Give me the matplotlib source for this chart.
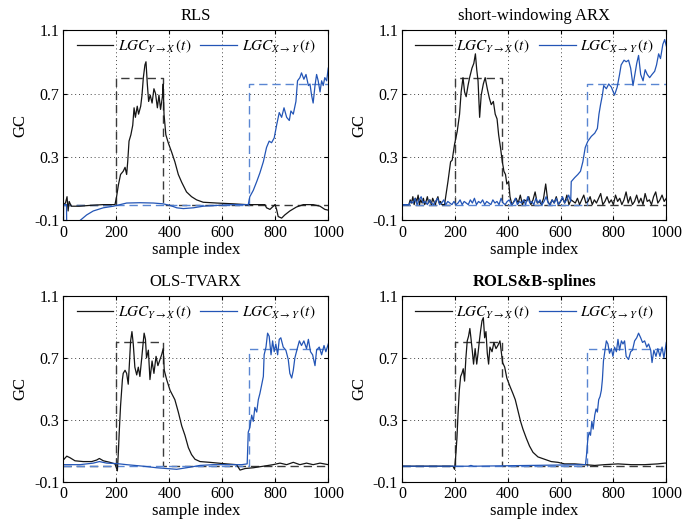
"""
Time-varying Granger causality estimates for four methods (2x2 panels).
Writes out.png.
"""

import matplotlib
matplotlib.use("Agg")
import matplotlib.pyplot as plt
import numpy as np

plt.rcParams["font.family"] = ["Liberation Serif", "DejaVu Serif"]
plt.rcParams["mathtext.fontset"] = "stix"

# ---------------------------------------------------------------------------
# Data
# ---------------------------------------------------------------------------

# ground truth: Y->X active on [200, 378), X->Y active from 700 on
TRUE_YX_T = [0, 200, 378, 1000]
TRUE_YX_V = [0.0, 0.80, 0.0, 0.0]
TRUE_XY_T = [0, 700, 1000]
TRUE_XY_V = [0.0, 0.76, 0.76]

# --- RLS ---
RLS_YX_T = [0, 8, 14, 18, 22, 30, 60, 100, 150, 190, 195, 201, 208, 216, 226,
            233, 239, 243, 248, 255, 262, 267, 272, 279, 284, 292, 297, 302,
            308, 312, 317, 322, 328, 335, 342, 348, 355, 361, 367, 374, 377,
            380, 387, 396, 409, 421, 434, 447, 465, 484, 503, 528, 579, 642,
            692, 742, 761, 767, 780, 799, 805, 811, 824, 836, 855, 880, 906,
            943, 969, 987, 1000]
RLS_YX_V = [0.0, 0.01, 0.05, -0.04, 0.02, -0.01, -0.01, -0.005, 0.0, 0.0, 0.0,
            0.05, 0.125, 0.19, 0.21, 0.235, 0.19, 0.27, 0.40, 0.44, 0.50, 0.61,
            0.55, 0.62, 0.57, 0.62, 0.69, 0.80, 0.88, 0.90, 0.76, 0.65, 0.69,
            0.64, 0.73, 0.70, 0.61, 0.69, 0.60, 0.68, 0.76, 0.57, 0.44, 0.39,
            0.33, 0.27, 0.19, 0.14, 0.08, 0.05, 0.03, 0.015, 0.01, 0.005, 0.0,
            0.0, 0.0, -0.02, -0.03, 0.0, -0.03, -0.075, -0.085, -0.065, -0.04,
            -0.015, 0.0, 0.0, -0.01, -0.03, -0.035]
RLS_XY_T = [0, 1, 12, 13, 40, 63, 88, 113, 151, 189, 239, 289, 340, 377, 403,
            428, 453, 491, 528, 579, 642, 698, 704, 717, 730, 742, 755, 767,
            777, 786, 796, 805, 815, 824, 833, 843, 853, 859, 868, 878, 884,
            893, 899, 908, 916, 925, 931, 937, 943, 950, 956, 962, 969, 975,
            981, 987, 994, 1000]
RLS_XY_V = [-0.2, 0.0, 0.0, -0.2, -0.2, -0.1, -0.065, -0.04, -0.02, -0.01,
            0.01, 0.012, 0.01, 0.005, -0.005, -0.02, -0.025, -0.02, -0.01,
            -0.005, 0.0, 0.0, 0.05, 0.09, 0.145, 0.20, 0.27, 0.36, 0.40, 0.39,
            0.42, 0.50, 0.58, 0.55, 0.61, 0.55, 0.53, 0.59, 0.57, 0.65, 0.78,
            0.80, 0.83, 0.79, 0.82, 0.75, 0.76, 0.69, 0.64, 0.75, 0.82, 0.78,
            0.71, 0.78, 0.75, 0.80, 0.78, 0.86]

# --- short-windowing ARX ---
ARX_YX_LEAD = [0.0, 0.03, 0.01, 0.05, 0.0, 0.04, 0.02, 0.06, 0.0, 0.03, 0.01,
               0.04, 0.0, 0.02, 0.05, 0.01, 0.03, 0.0, 0.04, 0.02, 0.0, 0.03,
               0.05, 0.01, 0.02, 0.0, 0.0]          # samples 25..155
ARX_YX_T = [160, 173, 183, 189, 198, 208, 217, 223, 230, 236, 242, 249, 255,
            264, 271, 277, 282, 287, 293, 299, 307, 314, 322, 330, 337, 345,
            352, 359, 365, 372, 379, 385, 391, 396, 403, 408]
ARX_YX_V = [0.0, 0.145, 0.27, 0.28, 0.38, 0.46, 0.57, 0.71, 0.80, 0.71, 0.68,
            0.75, 0.80, 0.86, 0.89, 0.95, 0.85, 0.78, 0.55, 0.69, 0.76, 0.80,
            0.73, 0.67, 0.63, 0.65, 0.57, 0.54, 0.44, 0.36, 0.27, 0.21, 0.19,
            0.13, 0.145, 0.05]
ARX_YX_TAIL = [0.0, 0.02, 0.04, 0.01, 0.06, 0.0, 0.03, 0.02, 0.05, 0.0, 0.03,
               0.08, 0.01, 0.02, 0.0, 0.04, 0.13, 0.02, 0.0, 0.03, 0.01, 0.05,
               0.0, 0.02, 0.04, 0.01, 0.06, 0.0, 0.03, 0.02, 0.01, 0.04, 0.0,
               0.03, 0.06, 0.01, 0.02, 0.05, 0.0, 0.03, 0.01, 0.04, 0.07, 0.0,
               0.02, 0.05, 0.01, 0.03, 0.0, 0.06, 0.02, 0.04, 0.0, 0.03, 0.08,
               0.01, 0.05, 0.0, 0.02, 0.06, 0.01, 0.04, 0.0, 0.07, 0.02, 0.03,
               0.0, 0.05, 0.08, 0.01, 0.03, 0.06, 0.02, 0.04]   # 415..1000
ARX_XY_LEAD = [0.0, 0.02, 0.01, 0.04, 0.0, 0.03, 0.05, 0.01, 0.02, 0.0,
               0.03, 0.01, 0.0, 0.02, 0.04, 0.0, 0.01, 0.03, 0.0, 0.02,
               0.01, 0.0, 0.02, 0.0, 0.01, 0.03, 0.0, 0.02, 0.01, 0.0,
               0.03, 0.01, 0.04, 0.0, 0.02, 0.01, 0.03, 0.0, 0.02, 0.01,
               0.0, 0.03, 0.01, 0.02, 0.0, 0.04, 0.01, 0.0, 0.02, 0.03,
               0.0, 0.01, 0.04, 0.0, 0.02, 0.01, 0.03, 0.0, 0.05, 0.01,
               0.02, 0.0, 0.04, 0.01, 0.03, 0.0, 0.02, 0.05, 0.01, 0.0,
               0.03, 0.01, 0.04, 0.0, 0.02, 0.05, 0.01, 0.03, 0.06, 0.02]  # 25..638
ARX_XY_T = [640, 653, 665, 675, 684, 693, 703, 716, 729, 739, 745, 751, 758,
            763, 773, 782, 792, 804, 814, 823, 829, 840, 848, 857, 865, 874,
            880, 888, 895, 903, 912, 920, 928, 937, 946, 956, 963, 971, 978,
            987, 994, 1000]
ARX_XY_V = [0.145, 0.17, 0.19, 0.21, 0.27, 0.36, 0.40, 0.43, 0.45, 0.48, 0.57,
            0.63, 0.69, 0.75, 0.73, 0.76, 0.74, 0.69, 0.74, 0.82, 0.88, 0.91,
            0.90, 0.91, 0.86, 0.75, 0.81, 0.89, 0.94, 0.82, 0.78, 0.85, 0.82,
            0.80, 0.82, 0.84, 0.88, 0.95, 0.92, 1.01, 1.04, 1.00]

# --- OLS-TVARX ---
OLS_YX_T = [0, 13, 25, 44, 75, 107, 126, 136, 151, 176, 195, 204, 208, 211,
            216, 223, 226, 233, 239, 245, 249, 254, 259, 264, 270, 277, 283,
            289, 296, 302, 305, 310, 314, 321, 327, 335, 342, 350, 357, 365,
            371, 377, 381, 390, 403, 421, 434, 447, 459, 472, 484, 497, 516,
            553, 616, 654, 667, 686, 717, 755, 792, 818, 843, 868, 893, 918,
            943, 969, 1000]
OLS_YX_V = [0.04, 0.065, 0.055, 0.035, 0.03, 0.03, 0.04, 0.05, 0.035, 0.025,
            0.015, -0.03, 0.10, 0.22, 0.39, 0.56, 0.60, 0.62, 0.60, 0.53, 0.65,
            0.81, 0.87, 0.79, 0.64, 0.59, 0.64, 0.58, 0.70, 0.81, 0.86, 0.82,
            0.70, 0.75, 0.56, 0.68, 0.60, 0.71, 0.65, 0.69, 0.72, 0.76, 0.62,
            0.56, 0.49, 0.43, 0.35, 0.26, 0.20, 0.12, 0.075, 0.045, 0.03,
            0.025, 0.015, 0.01, -0.025, -0.015, -0.01, 0.0, 0.01, 0.02, 0.01,
            0.025, 0.01, 0.02, 0.01, 0.02, 0.01]
OLS_XY_T = [0, 63, 113, 136, 164, 201, 239, 302, 352, 390, 428, 465, 516, 566,
            616, 673, 694, 698, 704, 711, 717, 723, 730, 736, 742, 748, 755,
            758, 765, 771, 777, 784, 790, 796, 802, 809, 815, 821, 830, 840,
            849, 855, 862, 868, 874, 883, 891, 899, 908, 918, 925, 933, 941,
            950, 956, 966, 975, 984, 991, 1000]
OLS_XY_V = [0.01, 0.01, 0.02, 0.03, 0.02, 0.017, 0.01, 0.0, -0.01, -0.015,
            -0.02, -0.01, 0.005, 0.01, 0.01, 0.01, 0.015, 0.22, 0.25, 0.33,
            0.29, 0.38, 0.35, 0.43, 0.47, 0.52, 0.58, 0.72, 0.77, 0.86, 0.84,
            0.72, 0.81, 0.74, 0.79, 0.72, 0.82, 0.83, 0.77, 0.75, 0.69, 0.60,
            0.57, 0.62, 0.70, 0.76, 0.81, 0.78, 0.81, 0.76, 0.82, 0.74, 0.72,
            0.65, 0.75, 0.77, 0.72, 0.78, 0.74, 0.79]

# --- ROLS & B-splines ---
ROLS_YX_T = [0, 173, 192, 198, 202, 207, 211, 216, 221, 226, 231, 236, 241,
             246, 251, 256, 260, 265, 270, 276, 282, 287, 292, 297, 302, 307,
             312, 317, 322, 327, 332, 340, 347, 355, 362, 370, 375, 380, 388,
             396, 407, 419, 428, 438, 448, 457, 470, 482, 495, 514, 539, 564,
             590, 615, 653, 691, 729, 766, 817, 867, 918, 968, 994, 1000]
ROLS_YX_V = [0.0, 0.0, 0.0, -0.02, 0.055, 0.18, 0.33, 0.49, 0.58, 0.60, 0.63,
             0.55, 0.70, 0.81, 0.84, 0.89, 0.83, 0.75, 0.66, 0.76, 0.66, 0.73,
             0.81, 0.88, 0.94, 0.96, 0.83, 0.87, 0.73, 0.66, 0.77, 0.74, 0.80,
             0.76, 0.78, 0.81, 0.74, 0.67, 0.64, 0.57, 0.52, 0.47, 0.43, 0.36,
             0.29, 0.24, 0.18, 0.13, 0.09, 0.06, 0.045, 0.03, 0.025, 0.015,
             0.015, 0.01, 0.005, 0.01, 0.015, 0.01, 0.01, 0.015, 0.02, 0.02]
ROLS_XY_T = [0, 250, 260, 270, 694, 698, 703, 708, 713, 718, 723, 729, 734,
             739, 744, 749, 754, 758, 762, 767, 773, 779, 785, 792, 798, 804,
             811, 817, 823, 830, 836, 842, 848, 857, 865, 872, 880, 888, 895,
             903, 910, 918, 926, 933, 941, 946, 953, 961, 968, 976, 984, 991,
             1000]
ROLS_XY_V = [0.0, 0.0, 0.005, 0.0, 0.01, 0.075, 0.18, 0.22, 0.20, 0.29, 0.24,
             0.33, 0.37, 0.35, 0.43, 0.45, 0.49, 0.56, 0.68, 0.74, 0.81, 0.79,
             0.73, 0.76, 0.71, 0.77, 0.74, 0.82, 0.75, 0.81, 0.79, 0.81, 0.71,
             0.69, 0.74, 0.75, 0.81, 0.83, 0.86, 0.83, 0.80, 0.81, 0.77, 0.79,
             0.75, 0.67, 0.75, 0.71, 0.76, 0.71, 0.77, 0.70, 0.80]

# ---------------------------------------------------------------------------
# Assemble the ARX series (noisy stretches are read at even spacing)
# ---------------------------------------------------------------------------

arx_yx_t = np.concatenate([[0], np.linspace(25, 155, len(ARX_YX_LEAD)),
                           ARX_YX_T, np.linspace(415, 1000, len(ARX_YX_TAIL))])
arx_yx_v = np.concatenate([[0.0], ARX_YX_LEAD, ARX_YX_V, ARX_YX_TAIL])
arx_xy_t = np.concatenate([[0], np.linspace(25, 638, len(ARX_XY_LEAD)), ARX_XY_T])
arx_xy_v = np.concatenate([[0.0], ARX_XY_LEAD, ARX_XY_V])

PANELS = [
    ("RLS", RLS_YX_T, RLS_YX_V, RLS_XY_T, RLS_XY_V, "normal"),
    ("short-windowing ARX", arx_yx_t, arx_yx_v, arx_xy_t, arx_xy_v, "normal"),
    ("OLS-TVARX", OLS_YX_T, OLS_YX_V, OLS_XY_T, OLS_XY_V, "normal"),
    ("ROLS&B-splines", ROLS_YX_T, ROLS_YX_V, ROLS_XY_T, ROLS_XY_V, "bold"),
]

# axes rectangles in figure fractions [left, bottom, width, height]
RECTS = [
    [0.0906, 0.5784, 0.3790, 0.3642],
    [0.5755, 0.5784, 0.3777, 0.3642],
    [0.0906, 0.0790, 0.3790, 0.3550],
    [0.5755, 0.0790, 0.3777, 0.3550],
]

BLACK = "#151515"
BLUE = "#2355b6"
TRUE_BLACK = "#3a3a3a"
TRUE_BLUE = "#5a86d2"

fig = plt.figure(figsize=(6.99, 5.23), dpi=100)

for rect, (title, yx_t, yx_v, xy_t, xy_v, weight) in zip(RECTS, PANELS):
    ax = fig.add_axes(rect)
    ax.plot(TRUE_YX_T, TRUE_YX_V, drawstyle="steps-post", color=TRUE_BLACK,
            lw=1.0, dashes=(6, 3.5))
    ax.plot(TRUE_XY_T, TRUE_XY_V, drawstyle="steps-post", color=TRUE_BLUE,
            lw=1.0, dashes=(6, 3.5))
    l1, = ax.plot(yx_t, yx_v, color=BLACK, lw=0.9)
    l2, = ax.plot(xy_t, xy_v, color=BLUE, lw=0.9)

    ax.set_xlim(0, 1000)
    ax.set_ylim(-0.1, 1.1)
    ax.set_xticks(np.arange(0, 1001, 200))
    ax.set_yticks([-0.1, 0.3, 0.7, 1.1])
    ax.set_yticklabels(["-0.1", "0.3", "0.7", "1.1"])
    ax.tick_params(direction="in", top=True, right=True, labelsize=11.5,
                   length=3, pad=3)
    ax.grid(True, linestyle=(0, (1, 3)), color="#444444", lw=0.7)
    for s in ax.spines.values():
        s.set_linewidth(0.8)

    ax.set_title(title, fontsize=12, fontweight=weight, pad=7)
    ax.set_xlabel("sample index", fontsize=12, labelpad=1)
    ax.set_ylabel("GC", fontsize=12, labelpad=4)
    ax.legend([l1, l2],
              [r"$LGC_{Y\rightarrow X}\,\left(t\right)$",
               r"$LGC_{X\rightarrow Y}\,\left(t\right)$"],
              loc="upper center", ncol=2, frameon=False, fontsize=11,
              handlelength=2.4, handletextpad=0.3, columnspacing=0.6,
              borderaxespad=0.1, bbox_to_anchor=(0.5, 1.0))

fig.savefig("out.png", dpi=100)
plt.close(fig)
